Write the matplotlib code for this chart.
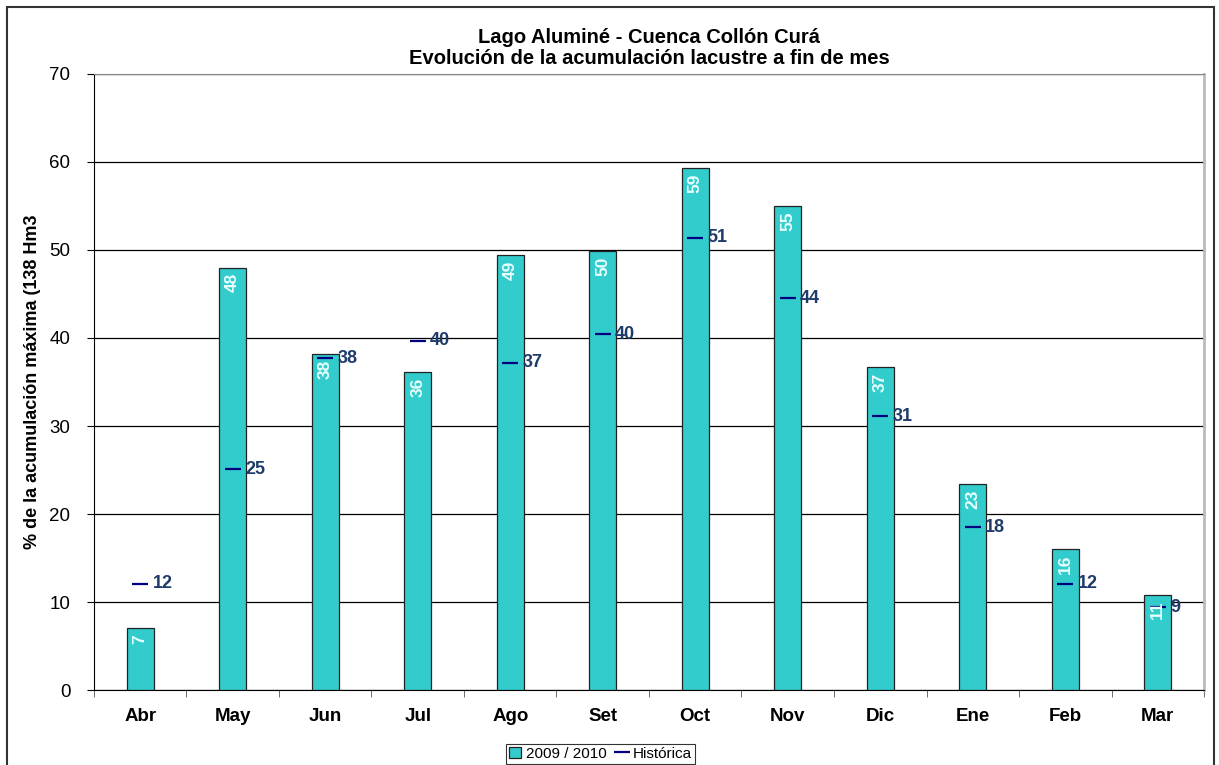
import matplotlib.pyplot as plt
from matplotlib.patches import Rectangle

plt.rcParams['font.family'] = ['Liberation Sans', 'DejaVu Sans']

meses = ['Abr', 'May', 'Jun', 'Jul', 'Ago', 'Set', 'Oct', 'Nov', 'Dic', 'Ene', 'Feb', 'Mar']
acum_2009 = [7.0, 48.0, 38.2, 36.1, 49.4, 49.9, 59.3, 55.0, 36.7, 23.4, 16.0, 10.8]
historica = [12.1, 25.1, 37.7, 39.7, 37.2, 40.4, 51.4, 44.5, 31.1, 18.5, 12.1, 9.4]

fig = plt.figure(figsize=(12.19, 7.65), dpi=100)
ax = fig.add_axes([0.0771, 0.098, 0.9106, 0.8053])

x = list(range(len(meses)))

# barras 2009/2010
ax.bar(x, acum_2009, width=0.29, color='#33CCCC', edgecolor='#222222',
       linewidth=0.9, zorder=3, label='2009 / 2010')
for xi, v in zip(x, acum_2009):
    ax.annotate(f'{v:.0f}', (xi, v), xytext=(0, -4), textcoords='offset points',
                rotation=90, ha='center', va='top', color='#E8FFFF',
                fontsize=12.5, fontweight='bold', zorder=5)

# historica como guiones
ax.plot(x, historica, linestyle='none', marker='_', markersize=11,
        markeredgewidth=1.6, color='#000080', zorder=4, label='Histórica')
for xi, v in zip(x, historica):
    ax.annotate(f'{v:.0f}', (xi, v), xytext=(9, 0), textcoords='offset points',
                ha='left', va='center', color='#1F3B6B',
                fontsize=13, fontweight='bold', zorder=5)

ax.set_xlim(-0.5, len(meses) - 0.5)
ax.set_ylim(0, 70)
ax.set_yticks(range(0, 71, 10))

# etiquetas en el centro, marcas en los limites de categoria
ax.set_xticks(x)
ax.set_xticklabels(meses, fontsize=13.5, fontweight='bold')
ax.tick_params(axis='x', which='major', length=0, pad=13)
ax.set_xticks([-0.5] + [i + 0.5 for i in x], minor=True)
ax.tick_params(axis='x', which='minor', length=5, direction='out', color='#555555')
ax.tick_params(axis='y', length=5, direction='out', labelsize=13.5, pad=12)

ax.grid(axis='y', color='black', linewidth=0.9, zorder=0)
ax.spines['left'].set_color('black')
ax.spines['bottom'].set_color('black')
ax.spines['top'].set_color('#888888')
ax.spines['right'].set_color('#BBBBBB')
ax.spines['right'].set_linewidth(2)

ax.set_ylabel('% de la acumulación máxima (138 Hm3', fontsize=13, fontweight='bold', labelpad=6)
ax.set_title('Lago Aluminé - Cuenca Collón Curá\nEvolución de la acumulación lacustre a fin de mes',
             fontsize=14.5, fontweight='bold', pad=7, linespacing=1.15)

handles, labels = ax.get_legend_handles_labels()
order = [labels.index('2009 / 2010'), labels.index('Histórica')]
leg = ax.legend([handles[i] for i in order], [labels[i] for i in order],
                loc='lower center', bbox_to_anchor=(0.456, -0.132), ncol=2, frameon=True,
                fancybox=False, edgecolor='black', fontsize=11, handlelength=0.8,
                handletextpad=0.3, columnspacing=0.6, borderpad=0.2)
leg.get_frame().set_linewidth(0.8)

# marco exterior
fig.patches.append(Rectangle((0.006, -0.01), 0.99, 1.001, transform=fig.transFigure,
                             fill=False, edgecolor='#333333', linewidth=1.5))

fig.savefig('out.png', dpi=100)
